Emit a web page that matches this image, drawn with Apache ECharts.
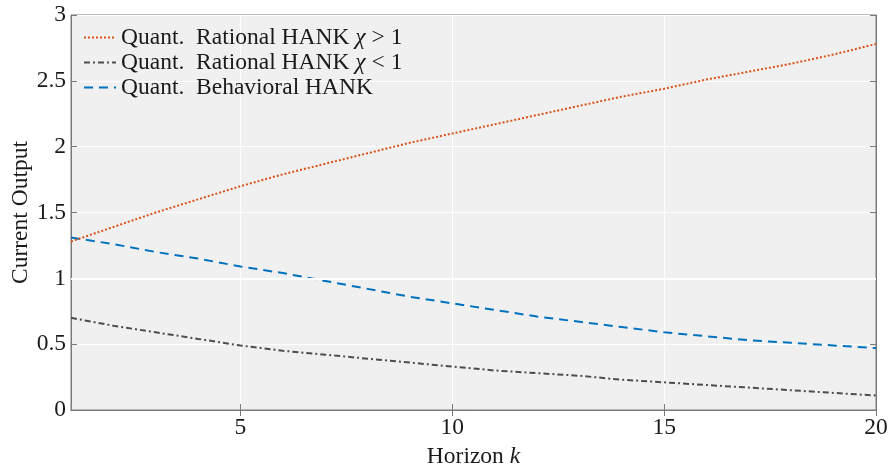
<!DOCTYPE html>
<html>
<head>
<meta charset="utf-8">
<script src="https://cdn.jsdelivr.net/npm/echarts@6/dist/echarts.min.js"></script>
<style>
  html, body { margin: 0; padding: 0; background: #ffffff; }
  #chart { width: 888px; height: 467px; }
</style>
</head>
<body>
<div id="chart"></div>
<script>
// Horizon k = 1..20
const horizons = [1, 2, 3, 4, 5, 6, 7, 8, 9, 10, 11, 12, 13, 14, 15, 16, 17, 18, 19, 20];

// Current output response under each model
const rationalChiAbove = [1.28, 1.39, 1.50, 1.60, 1.70, 1.79, 1.87, 1.95, 2.03, 2.10,
                          2.17, 2.24, 2.31, 2.38, 2.44, 2.51, 2.57, 2.63, 2.70, 2.78];
const rationalChiBelow = [0.70, 0.64, 0.59, 0.54, 0.49, 0.45, 0.42, 0.39, 0.36, 0.33,
                          0.30, 0.28, 0.26, 0.23, 0.21, 0.19, 0.17, 0.15, 0.13, 0.11];
const behavioral = [1.31, 1.26, 1.20, 1.15, 1.09, 1.04, 0.98, 0.92, 0.86, 0.81,
                    0.76, 0.71, 0.67, 0.63, 0.59, 0.56, 0.53, 0.51, 0.49, 0.47];

const xTicks = [5, 10, 15, 20];
const seriesNames = [
  'Quant.\u2002Rational HANK χ > 1',
  'Quant.\u2002Rational HANK χ < 1',
  'Quant.\u2002Behavioral HANK'
];

const FONT = 'Liberation Serif';
const FS = 23.5;
const INK = '#1a1a1a';
const pair = (ys) => horizons.map((h, i) => [h, ys[i]]);
const italic = { fontFamily: FONT, fontSize: FS, fontStyle: 'italic', color: INK };

const axisCommon = {
  axisLine: { show: true, lineStyle: { color: '#7a7a7a', width: 1 } },
  axisTick: { show: true, inside: true, length: 6, lineStyle: { color: '#7a7a7a' } },
};

const chart = echarts.init(document.getElementById('chart'), null, { renderer: 'canvas' });

chart.setOption({
  animation: false,
  backgroundColor: '#ffffff',
  grid: {
    left: 71, right: 12, top: 15, bottom: 57,
    outerBoundsMode: 'none', containLabel: false,
    show: true, backgroundColor: '#f0f0f0', borderColor: '#7a7a7a', borderWidth: 1
  },
  legend: {
    left: 83, top: 25, orient: 'vertical', padding: 0,
    itemWidth: 32, itemHeight: 14, itemGap: 0,
    itemStyle: { opacity: 0 },
    textStyle: {
      fontFamily: FONT, fontSize: FS, color: INK, lineHeight: 25,
      rich: { i: { ...italic, lineHeight: 25 } }
    },
    formatter: (name) => name.replace('χ', '{i|χ}'),
    data: seriesNames
  },
  xAxis: [{
    type: 'value', min: 1, max: 20,
    ...axisCommon,
    axisTick: { ...axisCommon.axisTick, customValues: xTicks },
    axisLabel: { customValues: xTicks, color: INK, fontFamily: FONT, fontSize: FS, margin: 6 },
    splitLine: { show: true, lineStyle: { color: '#ffffff', width: 1 } },
    name: 'Horizon {i|k}', nameLocation: 'middle', nameGap: 32,
    nameTextStyle: { fontFamily: FONT, fontSize: FS, color: INK, rich: { i: italic } }
  }, {
    type: 'value', min: 1, max: 20, position: 'top',
    ...axisCommon,
    axisTick: { ...axisCommon.axisTick, customValues: xTicks },
    axisLabel: { show: false },
    splitLine: { show: false }
  }],
  yAxis: [{
    type: 'value', min: 0, max: 3, interval: 0.5,
    ...axisCommon,
    axisLabel: { color: INK, fontFamily: FONT, fontSize: FS, margin: 5 },
    splitLine: { show: true, lineStyle: { color: '#ffffff', width: 1 } },
    name: 'Current Output', nameLocation: 'middle', nameGap: 38, nameMoveOverlap: false,
    nameTextStyle: { fontFamily: FONT, fontSize: FS, color: INK }
  }, {
    type: 'value', min: 0, max: 3, interval: 0.5, position: 'right',
    ...axisCommon,
    axisLabel: { show: false },
    splitLine: { show: false }
  }],
  series: [{
    name: seriesNames[0], type: 'line', data: pair(rationalChiAbove),
    showSymbol: false, symbol: 'none', z: 4,
    lineStyle: { color: '#D95319', width: 2, type: [2, 2] },
    itemStyle: { color: '#D95319' },
    markLine: {
      silent: true, symbol: 'none', label: { show: false },
      lineStyle: { color: '#ffffff', width: 2, type: 'solid' },
      data: [{ yAxis: 1 }]
    }
  }, {
    name: seriesNames[1], type: 'line', data: pair(rationalChiBelow),
    showSymbol: false, symbol: 'none', z: 3,
    lineStyle: { color: '#4d4d4d', width: 2, type: [6, 3, 2, 3] },
    itemStyle: { color: '#4d4d4d' }
  }, {
    name: seriesNames[2], type: 'line', data: pair(behavioral),
    showSymbol: false, symbol: 'none', z: 3,
    lineStyle: { color: '#0072BD', width: 2, type: [9, 6] },
    itemStyle: { color: '#0072BD' }
  }]
});
</script>
</body>
</html>
